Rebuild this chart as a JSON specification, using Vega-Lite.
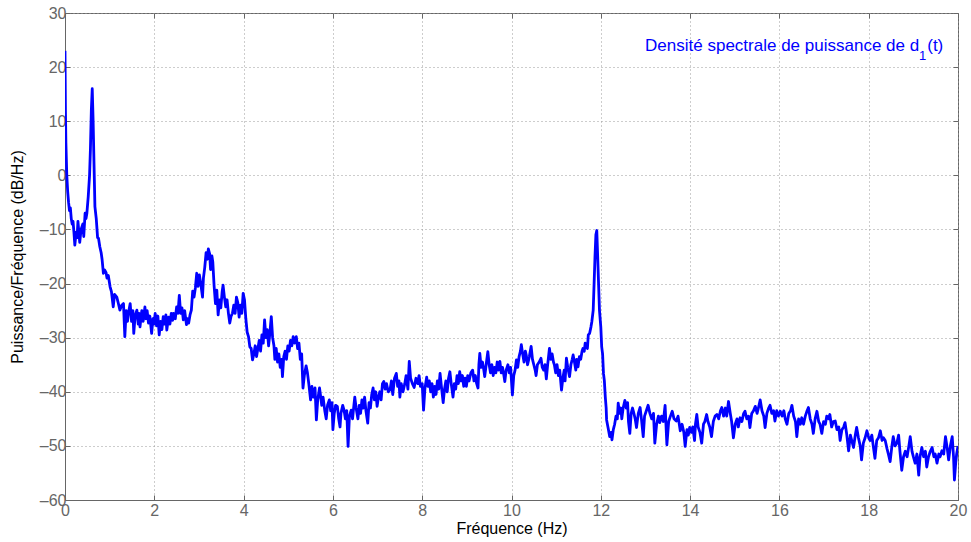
{
  "$schema": "https://vega.github.io/schema/vega-lite/v6.json",
  "width": 893,
  "height": 487,
  "autosize": {"type": "none"},
  "padding": {"left": 65, "top": 13, "right": 13, "bottom": 42},
  "background": "white",
  "config": {
    "font": "Liberation Sans",
    "view": {"stroke": "#666666", "strokeWidth": 1},
    "axis": {
      "labelFont": "Liberation Sans",
      "titleFont": "Liberation Sans",
      "labelFontSize": 16,
      "titleFontSize": 16,
      "labelColor": "#666666",
      "titleColor": "#000000",
      "titleFontWeight": "normal",
      "domainColor": "#666666",
      "tickColor": "#666666",
      "gridColor": "#9a9a9a",
      "gridDash": [1, 3],
      "gridOpacity": 1,
      "gridWidth": 1,
      "labelFlush": false,
      "labelOverlap": false
    }
  },
  "datasets": {
    "psd": [
      {"f":0,"p":23},{"f":0.01,"p":12},{"f":0.02,"p":6},{"f":0.04,"p":0},{"f":0.06,"p":-3},{"f":0.08,"p":-5},{"f":0.1,"p":-6.5},{"f":0.12,"p":-6},{"f":0.14,"p":-8},{"f":0.16,"p":-9},{"f":0.18,"p":-8.5},{"f":0.2,"p":-10.5},{"f":0.22,"p":-12.9},{"f":0.25,"p":-10.5},{"f":0.27,"p":-11.5},{"f":0.29,"p":-8.5},{"f":0.33,"p":-12.4},{"f":0.36,"p":-10},{"f":0.4,"p":-9},{"f":0.42,"p":-11.3},{"f":0.45,"p":-7},{"f":0.47,"p":-8},{"f":0.49,"p":-7},{"f":0.52,"p":-4},{"f":0.55,"p":0},{"f":0.57,"p":5},{"f":0.59,"p":12},{"f":0.61,"p":16},{"f":0.63,"p":10},{"f":0.65,"p":2},{"f":0.67,"p":-5.8},{"f":0.7,"p":-8},{"f":0.73,"p":-11.5},{"f":0.75,"p":-11.6},{"f":0.78,"p":-13.2},{"f":0.81,"p":-14.3},{"f":0.83,"p":-15.5},{"f":0.86,"p":-18.1},{"f":0.89,"p":-17.5},{"f":0.92,"p":-18},{"f":0.94,"p":-19},{"f":0.97,"p":-18.5},{"f":1.01,"p":-20.6},{"f":1.04,"p":-21.5},{"f":1.08,"p":-24.3},{"f":1.11,"p":-22},{"f":1.16,"p":-22.5},{"f":1.19,"p":-23.5},{"f":1.23,"p":-24.9},{"f":1.27,"p":-24},{"f":1.31,"p":-23.7},{"f":1.34,"p":-29.8},{"f":1.37,"p":-25},{"f":1.4,"p":-27},{"f":1.42,"p":-25.5},{"f":1.46,"p":-23.7},{"f":1.49,"p":-27},{"f":1.52,"p":-25},{"f":1.54,"p":-29.2},{"f":1.57,"p":-26},{"f":1.61,"p":-24.9},{"f":1.64,"p":-27.5},{"f":1.66,"p":-25.5},{"f":1.68,"p":-28},{"f":1.72,"p":-25},{"f":1.75,"p":-27},{"f":1.79,"p":-24.3},{"f":1.81,"p":-26.5},{"f":1.84,"p":-25},{"f":1.87,"p":-27.3},{"f":1.9,"p":-26},{"f":1.94,"p":-29.2},{"f":1.97,"p":-26.5},{"f":1.99,"p":-27.5},{"f":2.02,"p":-25.5},{"f":2.05,"p":-27.8},{"f":2.08,"p":-26},{"f":2.11,"p":-29.5},{"f":2.14,"p":-27},{"f":2.17,"p":-28.5},{"f":2.2,"p":-26.1},{"f":2.23,"p":-27.5},{"f":2.26,"p":-25.8},{"f":2.28,"p":-28.6},{"f":2.32,"p":-26.2},{"f":2.35,"p":-27.5},{"f":2.38,"p":-25.5},{"f":2.41,"p":-26.8},{"f":2.43,"p":-25.5},{"f":2.47,"p":-26.5},{"f":2.5,"p":-24.3},{"f":2.53,"p":-25.5},{"f":2.56,"p":-22.2},{"f":2.59,"p":-25.5},{"f":2.62,"p":-24.5},{"f":2.65,"p":-26.7},{"f":2.68,"p":-25},{"f":2.72,"p":-27.6},{"f":2.74,"p":-26.5},{"f":2.77,"p":-27.3},{"f":2.8,"p":-25.8},{"f":2.83,"p":-24.9},{"f":2.86,"p":-21.4},{"f":2.89,"p":-22.5},{"f":2.92,"p":-20.8},{"f":2.95,"p":-18.1},{"f":2.98,"p":-20.5},{"f":3.01,"p":-18.4},{"f":3.04,"p":-20},{"f":3.08,"p":-22.5},{"f":3.1,"p":-19},{"f":3.13,"p":-17},{"f":3.16,"p":-14.3},{"f":3.19,"p":-15.5},{"f":3.21,"p":-13.6},{"f":3.24,"p":-14.5},{"f":3.26,"p":-17.4},{"f":3.29,"p":-14.9},{"f":3.31,"p":-16},{"f":3.34,"p":-20.5},{"f":3.37,"p":-23.7},{"f":3.4,"p":-21.2},{"f":3.43,"p":-25.8},{"f":3.46,"p":-23},{"f":3.49,"p":-24.5},{"f":3.52,"p":-21.5},{"f":3.54,"p":-20.3},{"f":3.57,"p":-22.5},{"f":3.6,"p":-24.3},{"f":3.63,"p":-23},{"f":3.66,"p":-25.5},{"f":3.69,"p":-27.3},{"f":3.72,"p":-26},{"f":3.75,"p":-25.5},{"f":3.78,"p":-24},{"f":3.81,"p":-25.5},{"f":3.84,"p":-22.5},{"f":3.87,"p":-23.5},{"f":3.9,"p":-26.2},{"f":3.93,"p":-24},{"f":3.96,"p":-25.5},{"f":3.99,"p":-21.8},{"f":4.02,"p":-23},{"f":4.05,"p":-26.5},{"f":4.08,"p":-29},{"f":4.11,"p":-29.8},{"f":4.14,"p":-31.7},{"f":4.17,"p":-32},{"f":4.2,"p":-34.1},{"f":4.23,"p":-33},{"f":4.26,"p":-31.5},{"f":4.29,"p":-33.5},{"f":4.32,"p":-32},{"f":4.35,"p":-30.5},{"f":4.38,"p":-32.5},{"f":4.41,"p":-29.5},{"f":4.44,"p":-31},{"f":4.47,"p":-26.7},{"f":4.5,"p":-30},{"f":4.53,"p":-28.5},{"f":4.56,"p":-31.5},{"f":4.59,"p":-29},{"f":4.62,"p":-26.1},{"f":4.65,"p":-30},{"f":4.68,"p":-31.5},{"f":4.7,"p":-34},{"f":4.73,"p":-32},{"f":4.76,"p":-34.5},{"f":4.79,"p":-33},{"f":4.82,"p":-35.5},{"f":4.85,"p":-34},{"f":4.87,"p":-37.2},{"f":4.9,"p":-33.5},{"f":4.93,"p":-32.5},{"f":4.96,"p":-34},{"f":4.99,"p":-31.5},{"f":5.02,"p":-32.5},{"f":5.05,"p":-30.5},{"f":5.08,"p":-31.5},{"f":5.11,"p":-29.8},{"f":5.14,"p":-31},{"f":5.18,"p":-29.8},{"f":5.21,"p":-32},{"f":5.24,"p":-31},{"f":5.27,"p":-34},{"f":5.3,"p":-33},{"f":5.33,"p":-39.3},{"f":5.36,"p":-37},{"f":5.4,"p":-35.2},{"f":5.43,"p":-36.5},{"f":5.46,"p":-38.5},{"f":5.5,"p":-41.5},{"f":5.53,"p":-39},{"f":5.56,"p":-41},{"f":5.6,"p":-39.3},{"f":5.63,"p":-45.2},{"f":5.66,"p":-41.5},{"f":5.7,"p":-39.3},{"f":5.72,"p":-40.5},{"f":5.75,"p":-42.5},{"f":5.78,"p":-41},{"f":5.82,"p":-43.6},{"f":5.85,"p":-45},{"f":5.88,"p":-42.5},{"f":5.92,"p":-41.5},{"f":5.95,"p":-43.5},{"f":5.98,"p":-42},{"f":6,"p":-47},{"f":6.03,"p":-44},{"f":6.06,"p":-42.5},{"f":6.1,"p":-42.7},{"f":6.13,"p":-45},{"f":6.16,"p":-46.5},{"f":6.18,"p":-44},{"f":6.22,"p":-42.5},{"f":6.25,"p":-43.4},{"f":6.28,"p":-45},{"f":6.31,"p":-43.5},{"f":6.34,"p":-50.1},{"f":6.37,"p":-44.5},{"f":6.41,"p":-43.4},{"f":6.44,"p":-45},{"f":6.47,"p":-42.5},{"f":6.49,"p":-41},{"f":6.52,"p":-43},{"f":6.56,"p":-45},{"f":6.59,"p":-42.5},{"f":6.62,"p":-44},{"f":6.65,"p":-41.5},{"f":6.68,"p":-43},{"f":6.71,"p":-41},{"f":6.74,"p":-43.5},{"f":6.78,"p":-45.8},{"f":6.81,"p":-42},{"f":6.84,"p":-43},{"f":6.87,"p":-40.5},{"f":6.9,"p":-39.3},{"f":6.93,"p":-41.5},{"f":6.96,"p":-40},{"f":6.99,"p":-42.7},{"f":7.02,"p":-41},{"f":7.05,"p":-40},{"f":7.08,"p":-41.5},{"f":7.11,"p":-38.5},{"f":7.14,"p":-38.1},{"f":7.17,"p":-39.5},{"f":7.2,"p":-38.5},{"f":7.24,"p":-40},{"f":7.28,"p":-39.6},{"f":7.31,"p":-38},{"f":7.34,"p":-40.5},{"f":7.38,"p":-37.5},{"f":7.42,"p":-36.6},{"f":7.45,"p":-39},{"f":7.48,"p":-38},{"f":7.5,"p":-41},{"f":7.53,"p":-38.5},{"f":7.57,"p":-40},{"f":7.61,"p":-38.5},{"f":7.64,"p":-37},{"f":7.68,"p":-39.5},{"f":7.71,"p":-34.4},{"f":7.74,"p":-37.5},{"f":7.78,"p":-38.5},{"f":7.82,"p":-39.2},{"f":7.86,"p":-37.5},{"f":7.9,"p":-38.5},{"f":7.93,"p":-37},{"f":7.96,"p":-39},{"f":8,"p":-38.5},{"f":8.03,"p":-43.4},{"f":8.06,"p":-39.5},{"f":8.1,"p":-37.3},{"f":8.13,"p":-39},{"f":8.16,"p":-38},{"f":8.19,"p":-40},{"f":8.22,"p":-38.5},{"f":8.25,"p":-41},{"f":8.28,"p":-39},{"f":8.31,"p":-40.5},{"f":8.34,"p":-38},{"f":8.37,"p":-39.5},{"f":8.4,"p":-36.6},{"f":8.43,"p":-39},{"f":8.47,"p":-42},{"f":8.5,"p":-39.5},{"f":8.53,"p":-38},{"f":8.56,"p":-40},{"f":8.59,"p":-37.5},{"f":8.62,"p":-36.3},{"f":8.65,"p":-38.5},{"f":8.69,"p":-41},{"f":8.72,"p":-38.5},{"f":8.75,"p":-39.5},{"f":8.78,"p":-37},{"f":8.81,"p":-38.5},{"f":8.84,"p":-36.3},{"f":8.87,"p":-38},{"f":8.9,"p":-37},{"f":8.93,"p":-39},{"f":8.96,"p":-37.5},{"f":8.99,"p":-39},{"f":9.02,"p":-37},{"f":9.05,"p":-38},{"f":9.09,"p":-36.5},{"f":9.13,"p":-36},{"f":9.16,"p":-38},{"f":9.19,"p":-37},{"f":9.22,"p":-38.5},{"f":9.25,"p":-39.3},{"f":9.27,"p":-35},{"f":9.29,"p":-32.9},{"f":9.32,"p":-35.5},{"f":9.35,"p":-34.5},{"f":9.38,"p":-36},{"f":9.4,"p":-37.2},{"f":9.44,"p":-34.5},{"f":9.47,"p":-32.6},{"f":9.5,"p":-35},{"f":9.53,"p":-36.5},{"f":9.56,"p":-35},{"f":9.59,"p":-37},{"f":9.62,"p":-35.5},{"f":9.65,"p":-36.5},{"f":9.68,"p":-34.5},{"f":9.71,"p":-36},{"f":9.74,"p":-34.4},{"f":9.77,"p":-36.5},{"f":9.8,"p":-35.5},{"f":9.83,"p":-37},{"f":9.85,"p":-38.1},{"f":9.88,"p":-36},{"f":9.92,"p":-35},{"f":9.95,"p":-36.5},{"f":9.98,"p":-35.5},{"f":10.02,"p":-40.6},{"f":10.05,"p":-37},{"f":10.08,"p":-36},{"f":10.11,"p":-34.1},{"f":10.14,"p":-35.5},{"f":10.17,"p":-33.5},{"f":10.2,"p":-32.5},{"f":10.22,"p":-31.3},{"f":10.25,"p":-33},{"f":10.28,"p":-34.5},{"f":10.31,"p":-32.5},{"f":10.33,"p":-33.2},{"f":10.36,"p":-35},{"f":10.4,"p":-33.5},{"f":10.44,"p":-31.6},{"f":10.47,"p":-34},{"f":10.5,"p":-35},{"f":10.53,"p":-36},{"f":10.55,"p":-37},{"f":10.58,"p":-35},{"f":10.62,"p":-34.5},{"f":10.66,"p":-33.8},{"f":10.69,"p":-35.5},{"f":10.72,"p":-36},{"f":10.75,"p":-35},{"f":10.78,"p":-37.6},{"f":10.81,"p":-35},{"f":10.85,"p":-32},{"f":10.88,"p":-34},{"f":10.91,"p":-33},{"f":10.94,"p":-34.5},{"f":10.96,"p":-35},{"f":10.99,"p":-36.5},{"f":11.02,"p":-35},{"f":11.05,"p":-37},{"f":11.08,"p":-36},{"f":11.12,"p":-39.7},{"f":11.15,"p":-37.5},{"f":11.18,"p":-36},{"f":11.2,"p":-38},{"f":11.23,"p":-33.8},{"f":11.26,"p":-35.5},{"f":11.3,"p":-37.2},{"f":11.33,"p":-35},{"f":11.36,"p":-34},{"f":11.38,"p":-33.2},{"f":11.41,"p":-34.5},{"f":11.44,"p":-36},{"f":11.46,"p":-34},{"f":11.49,"p":-35.4},{"f":11.52,"p":-33.5},{"f":11.55,"p":-34},{"f":11.58,"p":-32.5},{"f":11.6,"p":-32},{"f":11.63,"p":-32.5},{"f":11.65,"p":-31},{"f":11.67,"p":-31.5},{"f":11.7,"p":-32},{"f":11.72,"p":-29.5},{"f":11.75,"p":-29.2},{"f":11.78,"p":-28},{"f":11.8,"p":-27},{"f":11.83,"p":-24.9},{"f":11.85,"p":-20},{"f":11.87,"p":-15},{"f":11.89,"p":-11},{"f":11.91,"p":-10.2},{"f":11.93,"p":-15},{"f":11.95,"p":-20},{"f":11.97,"p":-24.9},{"f":12,"p":-28},{"f":12.02,"p":-31.7},{"f":12.04,"p":-33},{"f":12.06,"p":-36.6},{"f":12.08,"p":-38},{"f":12.1,"p":-40.9},{"f":12.12,"p":-43},{"f":12.13,"p":-45.2},{"f":12.16,"p":-46.5},{"f":12.2,"p":-48.3},{"f":12.23,"p":-47.5},{"f":12.25,"p":-48.9},{"f":12.28,"p":-47},{"f":12.31,"p":-46},{"f":12.34,"p":-44.5},{"f":12.37,"p":-45},{"f":12.39,"p":-42.1},{"f":12.42,"p":-44},{"f":12.45,"p":-43},{"f":12.47,"p":-45},{"f":12.5,"p":-43},{"f":12.54,"p":-41.6},{"f":12.57,"p":-43},{"f":12.6,"p":-42},{"f":12.62,"p":-45.5},{"f":12.65,"p":-47.7},{"f":12.68,"p":-44},{"f":12.71,"p":-43},{"f":12.73,"p":-43.6},{"f":12.77,"p":-45},{"f":12.8,"p":-46.6},{"f":12.84,"p":-44},{"f":12.88,"p":-42.9},{"f":12.91,"p":-45},{"f":12.95,"p":-48.3},{"f":12.98,"p":-44.5},{"f":13.02,"p":-43.5},{"f":13.06,"p":-42.5},{"f":13.1,"p":-44},{"f":13.14,"p":-45},{"f":13.18,"p":-44},{"f":13.21,"p":-49.5},{"f":13.25,"p":-46},{"f":13.29,"p":-44.5},{"f":13.32,"p":-45.7},{"f":13.36,"p":-44.5},{"f":13.4,"p":-45.5},{"f":13.44,"p":-42.5},{"f":13.48,"p":-49.8},{"f":13.52,"p":-45.5},{"f":13.56,"p":-44.5},{"f":13.6,"p":-43.6},{"f":13.64,"p":-45},{"f":13.69,"p":-45.4},{"f":13.73,"p":-44.5},{"f":13.78,"p":-47.2},{"f":13.82,"p":-46},{"f":13.86,"p":-47.5},{"f":13.89,"p":-50.1},{"f":13.93,"p":-47},{"f":13.96,"p":-48},{"f":13.99,"p":-46.6},{"f":14.03,"p":-47.5},{"f":14.06,"p":-46.5},{"f":14.1,"p":-49},{"f":14.12,"p":-46},{"f":14.15,"p":-44.2},{"f":14.18,"p":-46.5},{"f":14.22,"p":-47.5},{"f":14.26,"p":-49.5},{"f":14.3,"p":-46},{"f":14.33,"p":-45.5},{"f":14.37,"p":-44.2},{"f":14.4,"p":-45.5},{"f":14.44,"p":-46.5},{"f":14.48,"p":-48.3},{"f":14.52,"p":-45.5},{"f":14.56,"p":-44.5},{"f":14.6,"p":-44.2},{"f":14.64,"p":-45},{"f":14.68,"p":-43.5},{"f":14.71,"p":-42.9},{"f":14.75,"p":-44.5},{"f":14.79,"p":-43},{"f":14.82,"p":-44.5},{"f":14.86,"p":-41.8},{"f":14.9,"p":-44},{"f":14.93,"p":-45.5},{"f":14.97,"p":-48.5},{"f":15.01,"p":-46},{"f":15.05,"p":-45},{"f":15.08,"p":-46.5},{"f":15.12,"p":-44.8},{"f":15.16,"p":-45.5},{"f":15.2,"p":-44},{"f":15.23,"p":-43.6},{"f":15.27,"p":-45},{"f":15.31,"p":-44.5},{"f":15.34,"p":-46.6},{"f":15.38,"p":-44},{"f":15.42,"p":-43.5},{"f":15.46,"p":-42.7},{"f":15.5,"p":-44},{"f":15.53,"p":-43},{"f":15.57,"p":-41.5},{"f":15.61,"p":-43.5},{"f":15.65,"p":-44.5},{"f":15.68,"p":-46.6},{"f":15.72,"p":-44},{"f":15.76,"p":-43},{"f":15.79,"p":-42.5},{"f":15.83,"p":-44},{"f":15.87,"p":-43.5},{"f":15.9,"p":-45.4},{"f":15.94,"p":-43.5},{"f":15.98,"p":-44.5},{"f":16.02,"p":-43.6},{"f":16.06,"p":-44.5},{"f":16.1,"p":-43.5},{"f":16.13,"p":-45},{"f":16.17,"p":-46},{"f":16.21,"p":-44},{"f":16.25,"p":-43.5},{"f":16.28,"p":-42.5},{"f":16.32,"p":-44.5},{"f":16.36,"p":-45.5},{"f":16.39,"p":-48.3},{"f":16.43,"p":-45},{"f":16.47,"p":-46},{"f":16.5,"p":-44.8},{"f":16.54,"p":-46},{"f":16.58,"p":-44.5},{"f":16.62,"p":-43.5},{"f":16.65,"p":-42.9},{"f":16.69,"p":-45},{"f":16.73,"p":-46},{"f":16.76,"p":-47.7},{"f":16.8,"p":-45},{"f":16.84,"p":-43.6},{"f":16.88,"p":-45.5},{"f":16.91,"p":-46},{"f":16.95,"p":-47.7},{"f":16.99,"p":-45.5},{"f":17.03,"p":-46},{"f":17.06,"p":-44.5},{"f":17.1,"p":-45},{"f":17.13,"p":-44.2},{"f":17.17,"p":-46.5},{"f":17.21,"p":-45.5},{"f":17.25,"p":-45.4},{"f":17.29,"p":-47},{"f":17.33,"p":-46.5},{"f":17.36,"p":-49},{"f":17.4,"p":-47},{"f":17.44,"p":-46.5},{"f":17.47,"p":-45.7},{"f":17.51,"p":-48},{"f":17.55,"p":-50.9},{"f":17.59,"p":-48},{"f":17.62,"p":-49},{"f":17.66,"p":-50.3},{"f":17.7,"p":-48},{"f":17.73,"p":-46.6},{"f":17.77,"p":-48.5},{"f":17.81,"p":-50},{"f":17.84,"p":-52.6},{"f":17.88,"p":-49.5},{"f":17.92,"p":-48.5},{"f":17.96,"p":-47.2},{"f":18,"p":-48.5},{"f":18.03,"p":-49},{"f":18.07,"p":-48},{"f":18.11,"p":-50.5},{"f":18.14,"p":-52.3},{"f":18.18,"p":-49},{"f":18.22,"p":-48.5},{"f":18.26,"p":-47.2},{"f":18.3,"p":-49},{"f":18.33,"p":-48.5},{"f":18.37,"p":-49},{"f":18.41,"p":-50.5},{"f":18.44,"p":-51.5},{"f":18.48,"p":-52.9},{"f":18.52,"p":-50},{"f":18.55,"p":-48.3},{"f":18.59,"p":-50},{"f":18.63,"p":-49.5},{"f":18.67,"p":-48},{"f":18.7,"p":-51},{"f":18.74,"p":-54.5},{"f":18.78,"p":-52},{"f":18.82,"p":-51},{"f":18.86,"p":-52},{"f":18.9,"p":-50},{"f":18.93,"p":-48.3},{"f":18.97,"p":-51},{"f":19,"p":-52},{"f":19.04,"p":-53.2},{"f":19.08,"p":-51.5},{"f":19.12,"p":-55.4},{"f":19.15,"p":-52},{"f":19.19,"p":-50.3},{"f":19.23,"p":-52},{"f":19.27,"p":-51},{"f":19.3,"p":-53.9},{"f":19.34,"p":-52},{"f":19.38,"p":-51},{"f":19.42,"p":-50.3},{"f":19.46,"p":-52},{"f":19.49,"p":-51.5},{"f":19.53,"p":-53.2},{"f":19.57,"p":-51.5},{"f":19.6,"p":-52},{"f":19.64,"p":-50.9},{"f":19.68,"p":-51.5},{"f":19.72,"p":-48.3},{"f":19.76,"p":-50.5},{"f":19.79,"p":-52.6},{"f":19.83,"p":-50},{"f":19.87,"p":-48.3},{"f":19.9,"p":-52},{"f":19.92,"p":-56.3},{"f":19.95,"p":-53},{"f":19.97,"p":-51.5},{"f":20,"p":-50}
    ],
    "label": [
      {"f": 19.13, "p": 22.9, "txt": "Densité spectrale de puissance de d", "size": 17},
      {"f": 19.29, "p": 21.4, "txt": "1", "size": 13},
      {"f": 19.67, "p": 22.9, "txt": "(t)", "size": 17}
    ]
  },
  "layer": [
    {
      "data": {"name": "psd"},
      "mark": {"type": "line", "color": "#0000ff", "strokeWidth": 2.8, "strokeJoin": "round", "clip": true},
      "encoding": {
        "x": {
          "field": "f", "type": "quantitative",
          "scale": {"domain": [0, 20], "nice": false, "zero": false},
          "axis": {
            "orient": "bottom",
            "title": "Fréquence (Hz)",
            "values": [0, 2, 4, 6, 8, 10, 12, 14, 16, 18, 20],
            "grid": true,
            "tickSize": -5,
            "labelPadding": 7,
            "titlePadding": 2
          }
        },
        "y": {
          "field": "p", "type": "quantitative",
          "scale": {"domain": [-60, 30], "nice": false, "zero": false},
          "axis": {
            "orient": "left",
            "title": "Puissance/Fréquence (dB/Hz)",
            "values": [-60, -50, -40, -30, -20, -10, 0, 10, 20, 30],
            "labelExpr": "datum.value < 0 ? '–' + format(-datum.value, 'd') : format(datum.value, 'd')",
            "grid": true,
            "tickSize": -5,
            "labelPadding": 4,
            "titlePadding": 14
          }
        }
      }
    },
    {
      "data": {"name": "label"},
      "mark": {"type": "text", "align": "right", "baseline": "alphabetic", "color": "#0000ff", "font": "Liberation Sans"},
      "encoding": {
        "x": {
          "field": "f", "type": "quantitative",
          "scale": {"domain": [0, 20], "nice": false, "zero": false},
          "axis": {"orient": "top", "values": [0, 2, 4, 6, 8, 10, 12, 14, 16, 18, 20], "labels": false, "title": null, "grid": false, "domain": false, "tickSize": -5}
        },
        "y": {
          "field": "p", "type": "quantitative",
          "scale": {"domain": [-60, 30], "nice": false, "zero": false},
          "axis": {"orient": "right", "values": [-60, -50, -40, -30, -20, -10, 0, 10, 20, 30], "labels": false, "title": null, "grid": false, "domain": false, "tickSize": -5}
        },
        "text": {"field": "txt"},
        "size": {"field": "size", "type": "quantitative", "scale": null}
      }
    }
  ],
  "resolve": {"axis": {"x": "independent", "y": "independent"}}
}
